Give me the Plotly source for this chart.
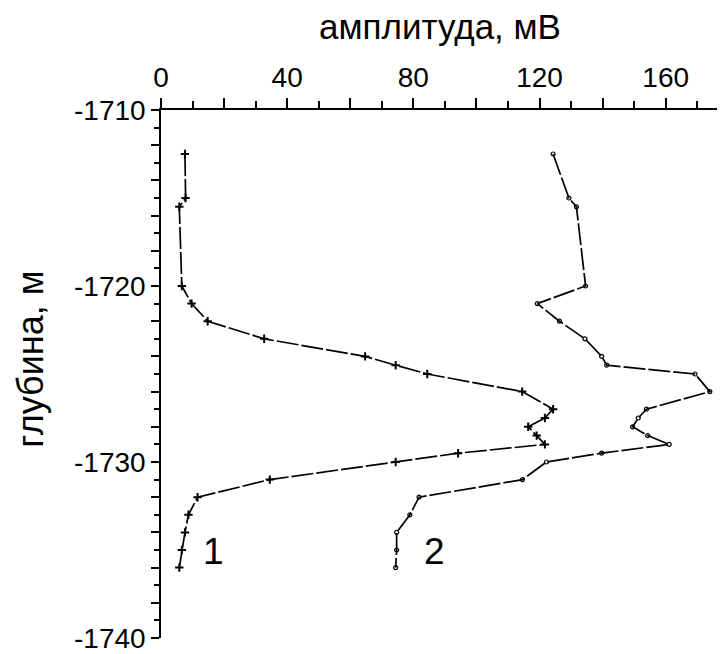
import plotly.graph_objects as go

depth = [-1712.5, -1715, -1715.5, -1720, -1721, -1722, -1723, -1724, -1724.5, -1725,
         -1726, -1727, -1727.5, -1728, -1728.5, -1729, -1729.5, -1730, -1731, -1732,
         -1733, -1734, -1735, -1736]
amp1 = [7.6, 7.8, 5.8, 6.6, 9.7, 14.8, 32.7, 64.7, 74.4, 84.4,
        114.5, 124.3, 121.7, 116.4, 119.1, 121.7, 94.2, 74.4, 34.5, 11.6,
        8.7, 7.6, 6.6, 5.8]
amp2 = [124.3, 129.3, 131.7, 134.6, 119.3, 126.3, 134.4, 139.7, 141.3, 169.3,
        174.0, 153.9, 151.3, 149.5, 154.3, 161.1, 139.7, 122.2, 114.6, 81.8,
        78.9, 74.7, 74.7, 74.4]

x_tickvals = list(range(0, 181, 20))
x_ticktext = [str(v) if v % 40 == 0 else "" for v in x_tickvals]
y_tickvals = list(range(-1740, -1709, 2))
y_ticktext = [str(v) if v % 10 == 0 else "" for v in y_tickvals]

FONT = "Liberation Sans, Arial, sans-serif"
line_style = dict(color="black", width=1.7, dash="22px,3px")

fig = go.Figure()
fig.add_trace(go.Scatter(
    x=amp1, y=depth, mode="lines+markers", line=line_style,
    marker=dict(symbol="cross-thin", size=6, color="black",
                line=dict(color="black", width=2)),
    showlegend=False))
fig.add_trace(go.Scatter(
    x=amp2, y=depth, mode="lines+markers", line=line_style,
    marker=dict(symbol="circle-open", size=4, color="black",
                line=dict(color="black", width=1.2)),
    showlegend=False))

fig.add_annotation(x=16.8, y=-1735.1, xref="x", yref="y", text="1", showarrow=False,
                   font=dict(family=FONT, size=37, color="black"))
fig.add_annotation(x=86.8, y=-1735.1, xref="x", yref="y", text="2", showarrow=False,
                   font=dict(family=FONT, size=37, color="black"))
fig.add_annotation(x=0.4947, y=1.159, xref="paper", yref="paper", text="амплитуда, мВ",
                   showarrow=False, yanchor="middle",
                   font=dict(family=FONT, size=35, color="black"))
fig.add_annotation(x=-0.2305, y=0.529, xref="paper", yref="paper", text="глубина, м",
                   showarrow=False, textangle=-90, xanchor="center", yanchor="middle",
                   font=dict(family=FONT, size=36, color="black"))

# the page body has an 8px margin, so the figure is 8px smaller than the window
fig.update_layout(
    width=717, height=646,
    margin=dict(l=153, r=0, t=102, b=9),
    paper_bgcolor="white", plot_bgcolor="white",
    font=dict(family=FONT, size=28, color="black"),
    xaxis=dict(side="top", range=[0, 178.8], showgrid=False, zeroline=False,
               showline=True, linecolor="black", linewidth=1.5,
               tickmode="array", tickvals=x_tickvals, ticktext=x_ticktext,
               ticks="outside", ticklen=10, tickwidth=1.5, tickcolor="black",
               ticklabeloverflow="allow",
               minor=dict(dtick=10, tick0=0, ticks="outside", ticklen=7,
                          tickwidth=1.5, tickcolor="black"),
               tickfont=dict(family=FONT, size=28, color="black")),
    yaxis=dict(range=[-1740, -1710], showgrid=False, zeroline=False,
               showline=True, linecolor="black", linewidth=1.5,
               tickmode="array", tickvals=y_tickvals, ticktext=y_ticktext,
               ticks="outside", ticklen=8, tickwidth=1.5, tickcolor="black",
               ticklabeloverflow="allow",
               minor=dict(dtick=1, tick0=-1740, ticks="outside", ticklen=5,
                          tickwidth=1.5, tickcolor="black"),
               tickfont=dict(family=FONT, size=28, color="black")),
)

fig.write_html("out.html", config={"displayModeBar": False})
